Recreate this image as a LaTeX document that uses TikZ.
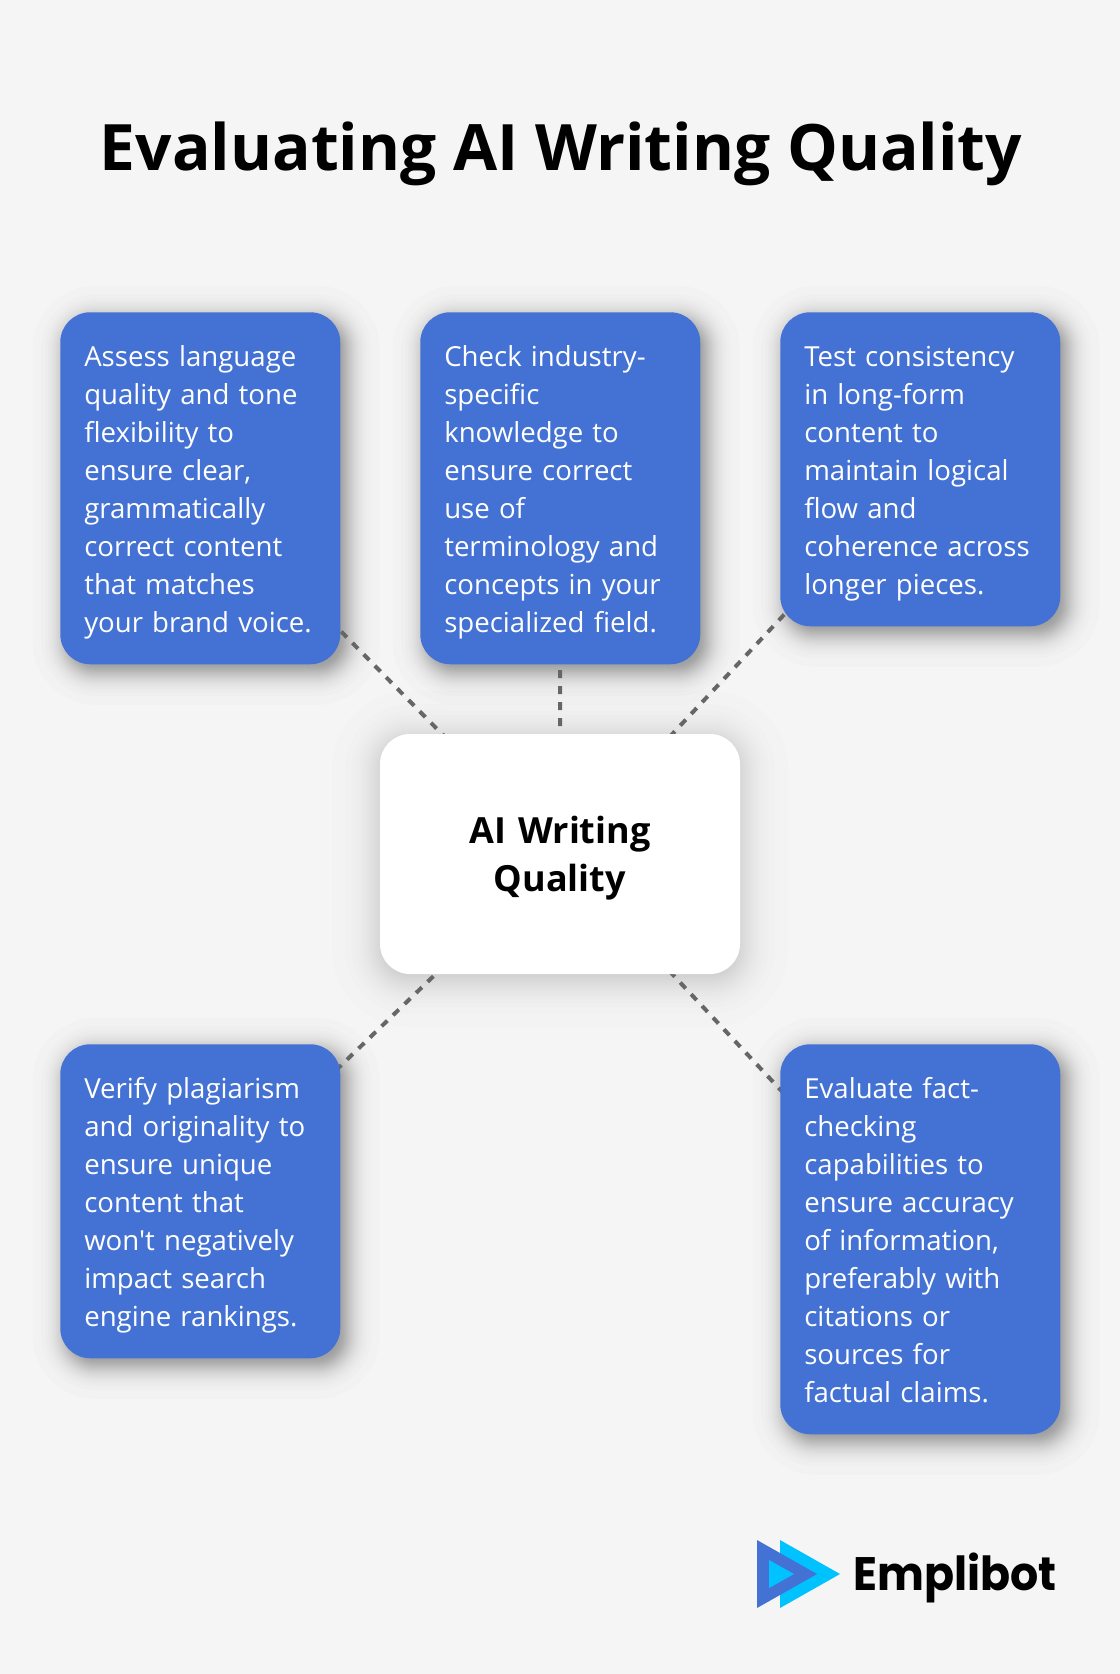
\documentclass[tikz,border=0pt]{standalone}
\usepackage{fontspec}
\usepackage{graphicx}
\setmainfont{Open Sans}
\newfontfamily\cardfont{Open Sans}
\newfontfamily\logofont{Poppins}
\usetikzlibrary{calc}
\pgfdeclarelayer{bg}
\pgfdeclarelayer{mid}
\pgfsetlayers{bg,mid,main}
\definecolor{pagebg}{HTML}{F5F5F5}
\definecolor{cardblue}{HTML}{4472D4}
\definecolor{logocyan}{HTML}{00C2FF}
\definecolor{linkgrey}{HTML}{666666}
\newcommand{\bstrut}{\rule[-6pt]{0pt}{28.5pt}}
\newcommand{\hstrut}{\rule[-5.5pt]{0pt}{32.5pt}}
\newcommand{\softshadow}[6]{%
  \foreach \i in {1,...,#6}{%
    \pgfmathsetmacro{\u}{(\i-0.5)/#6}%
    \pgfmathsetmacro{\e}{#4*ln((1-\u)/\u)/1.7}%
    \pgfmathsetmacro{\r}{max(30+\e,2)*0.75}%
    \fill[black,opacity=#5,rounded corners=\r pt]
      ($(#1.north west)+(#2-\e,#3-\e)$) rectangle ($(#1.south east)+(#2+\e,#3+\e)$);
  }%
}
\tikzset{
  x=0.75pt,y=-0.75pt,
  card/.style={anchor=north west,fill=cardblue,text=white,rounded corners=22.5pt,
    text width=174pt,inner xsep=18pt,inner ysep=18pt,align=left,
    font=\cardfont\fontsize{20.7}{28.5}\selectfont,
    execute at begin node=\bstrut,execute at end node=\bstrut},
  hub/.style={fill=white,text=black,rounded corners=22.5pt,text width=270pt,minimum height=180pt,
    inner sep=0pt,align=center,font=\bfseries\fontsize{27}{35.7}\selectfont,
    execute at begin node=\hstrut,execute at end node=\hstrut},
  link/.style={draw=linkgrey,line width=3pt,dash pattern=on 6pt off 6pt},
}
\begin{document}
\begin{tikzpicture}
\useasboundingbox (0,0) rectangle (1120,1674);
\begin{pgfonlayer}{bg}
\fill[pagebg] (0,0) rectangle (1120,1674);
\end{pgfonlayer}
\node[anchor=base,text=black,font=\bfseries\fontsize{48}{58}\selectfont] (title) at (561,170) {Evaluating AI Writing Quality};
\node[hub] (core) at (560,854) {\mbox{AI Writing}\\Quality};
\node[card] (a) at (60,312) {Assess language\\quality and tone\\flexibility to\\ensure clear,\\grammatically\\correct content\\that matches\\your brand voice.};
\node[card] (b) at (420,312) {Check industry-\\specific\\knowledge to\\ensure correct\\use of\\terminology and\\concepts in your\\specialized field.};
\node[card] (c) at (780,312) {Test consistency\\in long-form\\content to\\maintain logical\\flow and\\coherence across\\longer pieces.};
\node[card] (d) at (60,1044) {Verify plagiarism\\and originality to\\ensure unique\\content that\\won't negatively\\impact search\\engine rankings.};
\node[card] (e) at (780,1044) {Evaluate fact-\\checking\\capabilities to\\ensure accuracy\\of information,\\preferably with\\citations or\\sources for\\factual claims.};
\node[anchor=base west,text=black,inner sep=0pt,font=\logofont\bfseries\fontsize{33.2}{40}\selectfont] (brand) at (853,1590) {\scalebox{1}[1.06]{Emplibot}};
\begin{pgfonlayer}{bg}
\softshadow{core}{0}{5}{20}{0.007}{30}
\softshadow{a}{6}{7}{13}{0.012}{40}
\softshadow{b}{6}{7}{13}{0.012}{40}
\softshadow{c}{6}{7}{13}{0.012}{40}
\softshadow{d}{6}{7}{13}{0.012}{40}
\softshadow{e}{6}{7}{13}{0.012}{40}
\end{pgfonlayer}
\begin{pgfonlayer}{mid}
\draw[link] (core.center) -- (a.center);
\draw[link] (core.center) -- (b.center);
\draw[link] (core.center) -- (c.center);
\draw[link] (core.center) -- (d.center);
\draw[link] (core.center) -- (e.center);
\end{pgfonlayer}
\fill[logocyan] (780,1540) -- (840,1574) -- (780,1608) -- cycle;
\fill[cardblue] (757,1540) -- (817,1574) -- (757,1608) -- cycle;
\fill[logocyan] (769,1560) -- (794,1574) -- (769,1588) -- cycle;
\end{tikzpicture}
\end{document}
